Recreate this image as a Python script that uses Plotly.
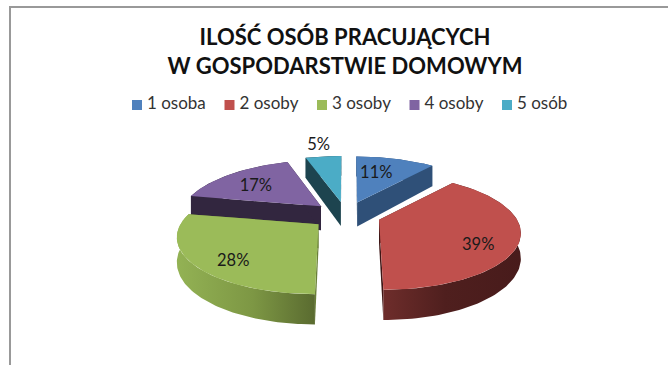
import numpy as np
import plotly.graph_objects as go

categories = ["1 osoba", "2 osoby", "3 osoby", "4 osoby", "5 osób"]
values = [11, 39, 28, 17, 5]
title_lines = ["ILOŚĆ OSÓB PRACUJĄCYCH", "W GOSPODARSTWIE DOMOWYM"]

top_colors = ["#4f81bd", "#c0504d", "#9bbb59", "#8064a2", "#4bacc6"]
edge_colors = ["#2f5078", "#3e1615", "#6a8038", "#32263f", "#1d444f"]
wall_scales = [
    [[0, "#2f5078"], [1, "#2f5078"]],
    [[0, "#6e2d2b"], [0.45, "#4f1f1e"], [1, "#481b1b"]],
    [[0, "#93b254"], [0.55, "#7d9744"], [1, "#5a6b30"]],
    [[0, "#32263f"], [1, "#32263f"]],
    [[0, "#1d444f"], [1, "#1d444f"]],
]

# projection of the tilted pie
CX, CY = 346, 215
RX, RY, K = 138, 55.5, 0.207
EXPLODE, DEPTH, SLANT = 0.25, 24, 0.5
label_frac = [0.6, 0.62, 0.6, 0.62, 1.3]
label_shift = [(-6, -1), (15, 14), (-16, 15), (-6, 2), (0, 0)]
draw_order = [0, 4, 3, 2, 1]


def proj(u, v):
    s = 1 / (1 + K * v)
    return RX * u * s, -RY * v * s


def depth(theta):
    return DEPTH / (1 + K * np.cos(theta))


fig = go.Figure()
fracs = np.array(values) / sum(values)
starts = np.concatenate([[0], np.cumsum(fracs)[:-1]]) * 2 * np.pi
ends = np.cumsum(fracs) * 2 * np.pi
mids = (starts + ends) / 2
offsets = [proj(EXPLODE * np.sin(m), EXPLODE * np.cos(m)) for m in mids]
apexes = [(CX + ox, CY + oy) for ox, oy in offsets]


def rim(i, theta):
    """Screen position of a rim point of slice i; the exploded offset grows towards the viewer."""
    x, y = proj(np.sin(theta), np.cos(theta))
    s = 1 / (1 + K * np.cos(theta))
    return apexes[i][0] + x + offsets[i][0] * (s - 1) * SLANT, apexes[i][1] + y


def poly(xs, ys, color=None, scale=None):
    kw = dict(x=xs, y=ys, mode="lines", fill="toself", line=dict(width=0), hoverinfo="skip", showlegend=False)
    if scale:
        kw["fillgradient"] = dict(type="horizontal", colorscale=scale)
    else:
        kw["fillcolor"] = color
    fig.add_trace(go.Scatter(**kw))


for i in draw_order:
    ax, ay = apexes[i]
    t = np.linspace(starts[i], ends[i], 90)
    rx, ry = rim(i, t)
    d = depth(t)
    for th in (starts[i], ends[i]):
        ex, ey = rim(i, th)
        dd = depth(th)
        poly([ax, ex, ex, ax], [ay, ey, ey + dd, ay + DEPTH], edge_colors[i])
    poly(np.r_[rx, rx[::-1]], np.r_[ry, (ry + d)[::-1]], scale=wall_scales[i])
    poly(np.r_[ax, rx], np.r_[ay, ry], top_colors[i])

# percentage labels
lx, ly, lt = [], [], []
for i, m in enumerate(mids):
    ox, oy = proj(label_frac[i] * np.sin(m), label_frac[i] * np.cos(m))
    lx.append(apexes[i][0] + ox + label_shift[i][0])
    ly.append(apexes[i][1] + oy + label_shift[i][1])
    lt.append(f"{values[i]}%")
fig.add_trace(go.Scatter(x=lx, y=ly, text=lt, mode="text", textposition="middle center",
                         textfont=dict(family="Lato", size=16.5, color="#1a1a1a"), hoverinfo="skip", showlegend=False))

# legend row
swatch_x = [137 + 92.5 * i for i in range(len(categories))]
fig.add_trace(go.Scatter(x=swatch_x, y=[105] * len(categories), mode="markers",
                         marker=dict(symbol="square", size=10, color=top_colors, line=dict(width=0)),
                         hoverinfo="skip", showlegend=False))
fig.add_trace(go.Scatter(x=[s + 10 for s in swatch_x], y=[105] * len(categories), text=categories, mode="text",
                         textposition="middle right",
                         textfont=dict(family="Lato", size=17, color="#333333"), hoverinfo="skip", showlegend=False))

fig.update_layout(
    width=668, height=365, autosize=False,
    margin=dict(l=0, r=0, t=0, b=0),
    paper_bgcolor="white", plot_bgcolor="white",
    title=dict(text="<br>".join(title_lines), x=345 / 668, xanchor="center", y=1 - 45 / 365, yanchor="middle",
               font=dict(family="Lato", size=22, color="#111111", weight="bold")),
    xaxis=dict(range=[0, 668], visible=False, fixedrange=True),
    yaxis=dict(range=[365, 0], visible=False, fixedrange=True),
    shapes=[
        dict(type="line", xref="x", yref="y", x0=9, x1=668, y0=7, y1=7, line=dict(color="#999999", width=2)),
        dict(type="line", xref="x", yref="y", x0=10, x1=10, y0=6, y1=365, line=dict(color="#999999", width=2)),
    ],
)
fig.write_html("out.html", config={"displayModeBar": False},
               post_script="document.body.style.margin='0';document.documentElement.style.overflow='hidden';")
